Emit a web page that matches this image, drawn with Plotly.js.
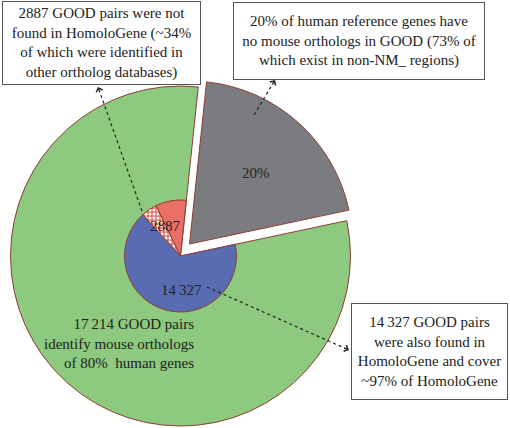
<!DOCTYPE html>
<html>
<head>
<meta charset="utf-8">
<script src="https://cdn.plot.ly/plotly-3.0.1.min.js"></script>
<style>html,body{margin:0;padding:0;background:#fff;overflow:hidden}</style>
</head>
<body>
<div id="chart" style="width:510px;height:428px"></div>
<script>
// ---- data ----
const outerLabels = ["No mouse ortholog in GOOD", "GOOD pairs"];
const outerValues = [20, 80];                       // percent of human reference genes
const innerLabels = ["Also in HomoloGene", "Not in HomoloGene, in other databases", "Not in HomoloGene"];
const innerValues = [14327, 982, 1905];              // GOOD pairs
const pctOtherDb = 34;                               // ~34% of the 2887
const pctHomoloGeneCovered = 97;

// ---- helpers ----
const W = 510, H = 428;
const thin = "\u2009";
function fmt(n){ const s = String(n); return n >= 10000 ? s.slice(0, s.length-3) + thin + s.slice(-3) : s; }
function dom(cx, cy, r){ return {x:[(cx-r)/W, (cx+r)/W], y:[1-(cy+r)/H, 1-(cy-r)/H]}; }
function px(x){ return x/W; }
function py(y){ return 1 - y/H; }

const notInHG = innerValues[1] + innerValues[2];
const totalPairs = innerValues[0] + notInHG;
const gapValue = totalPairs * outerValues[0] / outerValues[1];

const GREEN = "rgb(141,201,127)", GRAY = "rgb(123,124,128)", BLUE = "rgb(89,108,178)", RED = "rgb(233,110,101)";
const EDGE = "rgb(140,62,52)", NONE = "rgba(0,0,0,0)";

const traces = [
  { type:"pie", values:outerValues, labels:outerLabels, sort:false, direction:"clockwise", rotation:6,
    domain:dom(180.5,256,170), textinfo:"none", hoverinfo:"label+percent",
    marker:{colors:[NONE, GREEN], line:{color:[NONE, EDGE], width:[0,1]}}, showlegend:false },
  { type:"pie", values:outerValues, labels:outerLabels, sort:false, direction:"clockwise", rotation:6,
    domain:dom(189.5,244,163), textinfo:"none", hoverinfo:"label+percent",
    marker:{colors:[GRAY, NONE], line:{color:[EDGE, NONE], width:[1,0]}}, showlegend:false },
  { type:"pie", values:innerValues.concat([gapValue]), labels:innerLabels.concat(["gap"]), sort:false,
    direction:"clockwise", rotation:78, domain:dom(180.5,256,56), textinfo:"none", hoverinfo:"label+value",
    marker:{colors:[BLUE, RED, RED, NONE], line:{color:[EDGE, EDGE, EDGE, NONE], width:[1,1,1,0]},
      pattern:{shape:["", ".", "", ""], bgcolor:[BLUE, RED, RED, NONE], fgcolor:["#fff","#fff","#fff","#fff"],
        size:4, solidity:0.45}}, showlegend:false }
];

const FONT = {family:"'Liberation Serif', 'Times New Roman', serif", size:15, color:"#222"};
function box(text, x0, y0, x1, y1){
  return {text:text, xref:"paper", yref:"paper", x:px((x0+x1)/2), y:py((y0+y1)/2), xanchor:"center", yanchor:"middle",
    showarrow:false, width:x1-x0-2, height:y1-y0-2, borderpad:0, borderwidth:1, bordercolor:"#555",
    bgcolor:"#fff", font:FONT, align:"center"};
}
function label(text, x, y, align){
  return {text:text, xref:"paper", yref:"paper", x:px(x), y:py(y), xanchor:align||"center", yanchor:"middle",
    showarrow:false, font:FONT, align:align||"center"};
}
function head(hx, hy, tx, ty){
  const dx = tx-hx, dy = ty-hy, n = Math.hypot(dx,dy), L = 7;
  return {text:"", xref:"paper", yref:"paper", x:px(hx), y:py(hy), ax:dx/n*L, ay:dy/n*L,
    showarrow:true, arrowhead:4, arrowsize:1.3, arrowwidth:1, arrowcolor:"#222"};
}
function dotted(hx, hy, tx, ty){
  return {type:"line", xref:"paper", yref:"paper", x0:px(tx), y0:py(ty), x1:px(hx), y1:py(hy),
    line:{color:"#222", width:1.2, dash:"dot"}};
}

const arrows = [[98,87,142,211],[275,80,254,115],[349,350,207,287]];

const annotations = [
  box(fmt(notInHG)+" GOOD pairs were not<br>found in HomoloGene (~"+pctOtherDb+"%<br>of which were identified in<br>other ortholog databases)", 2, 1, 201, 85),
  box(outerValues[0]+"% of human reference genes have<br>no mouse orthologs in GOOD (73% of<br>which exist in non-NM_ regions)", 233, 2, 485, 80),
  box(fmt(innerValues[0])+" GOOD pairs<br>were also found in<br>HomoloGene and cover<br>~"+pctHomoloGeneCovered+"% of HomoloGene", 351, 303, 508, 400),
  label(fmt(totalPairs)+" GOOD pairs<br>identify mouse orthologs<br>of "+outerValues[1]+"%  human genes", 196, 343, "right"),
  label(outerValues[0]+"%", 256, 173),
  label(fmt(notInHG), 165, 226),
  label(fmt(innerValues[0]), 181, 290)
].concat(arrows.map(a => head(...a)));

const layout = {
  width:W, height:H, margin:{l:0,r:0,t:0,b:0}, paper_bgcolor:"#fff", plot_bgcolor:"#fff",
  showlegend:false, font:FONT, annotations:annotations, shapes:arrows.map(a => dotted(...a))
};
Plotly.newPlot("chart", traces, layout, {displayModeBar:false, staticPlot:true});
</script>
</body>
</html>
